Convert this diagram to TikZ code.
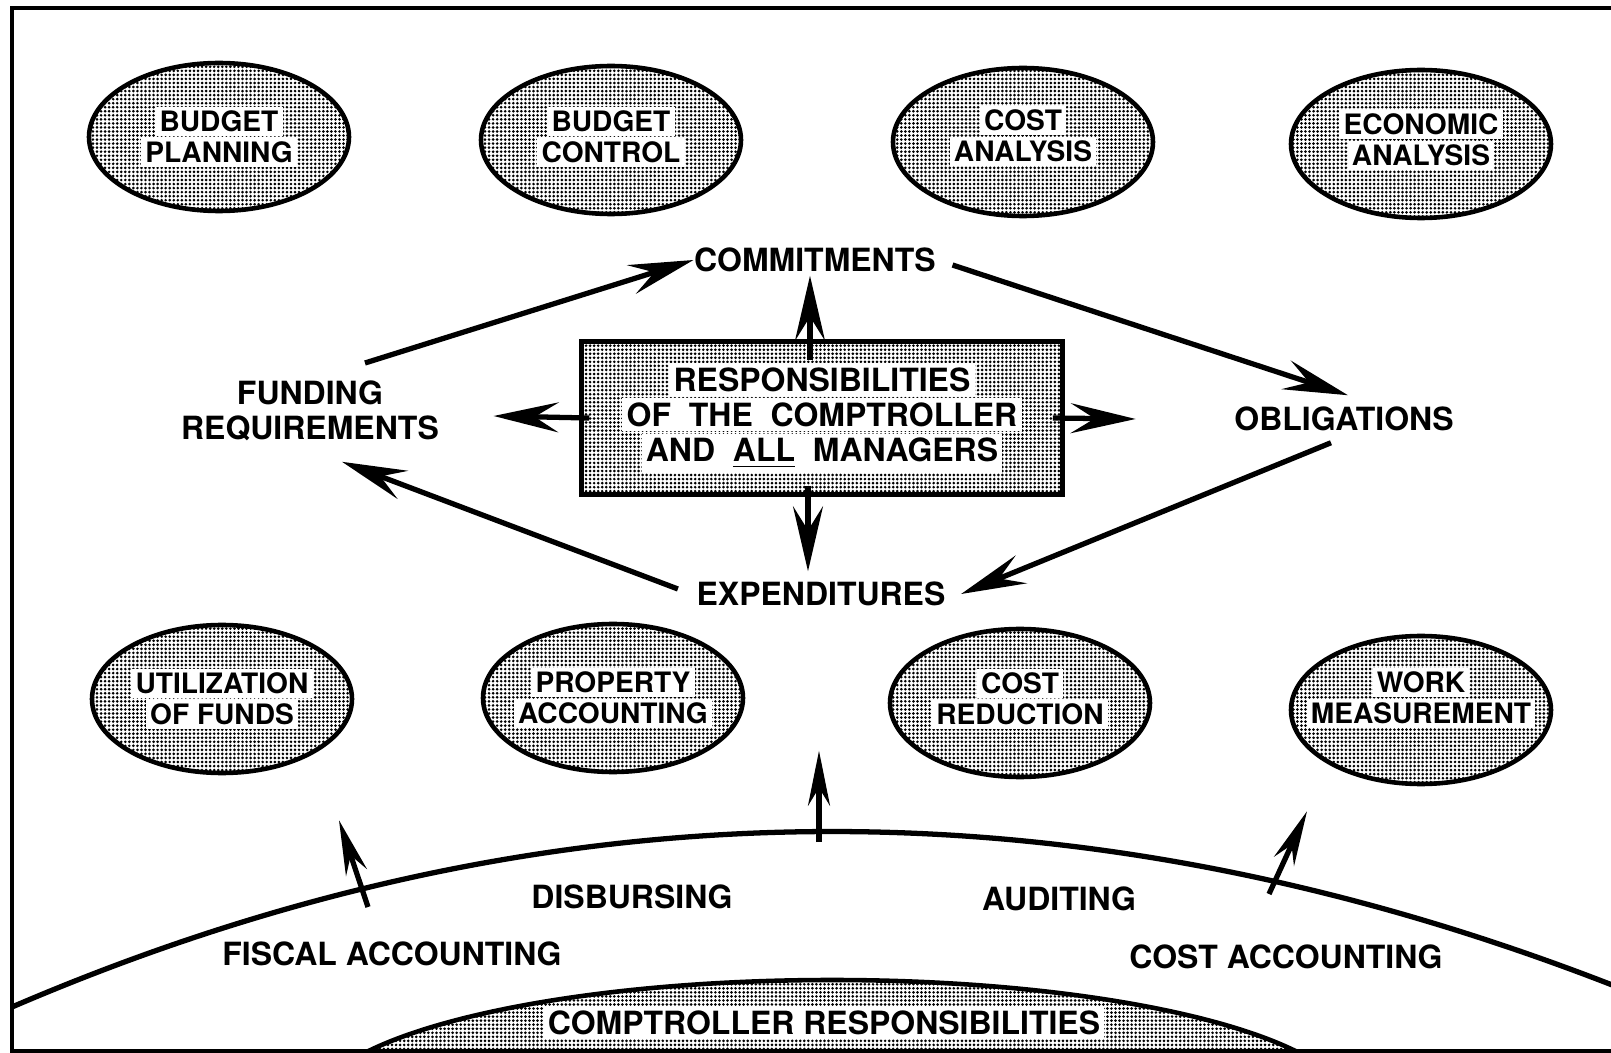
\documentclass[tikz,border=0pt]{standalone}
\usepackage{fontspec}
\setmainfont{TeX Gyre Heros}
\usetikzlibrary{arrows.meta,shapes.geometric,patterns.meta}
\setlength{\fboxsep}{1.2pt}
\newcommand{\cutout}[1]{\colorbox{white}{#1}}

\begin{document}
\begin{tikzpicture}[x=0.1mm,y=-0.1mm,
  screen/.style={pattern={Dots[distance=1.15pt,radius=0.42pt]}},
  spot/.style={ellipse, draw, line width=1.3pt, screen, minimum width=26mm, minimum height=14.8mm},
  tag/.style={font=\bfseries\fontsize{8}{8.9}\selectfont, align=center},
  flow/.style={line width=1.5pt, -{Stealth[length=6.5mm,width=3mm,inset=2.4mm]}},
  lift/.style={line width=1.5pt, -{Stealth[length=5.5mm,width=2.2mm,inset=1.8mm]}}]
\tikzstyle{every node}+=[inner sep=0pt, font=\bfseries\fontsize{9.1}{10}\selectfont, align=center]
\useasboundingbox (0,0) rectangle (1611,1053);
\draw [line width=1.2pt] (1625,8) -- (12,8) -- (12,1051) -- (1625,1051);
\begin{scope}
\clip (0,0) rectangle (1611,1051);
\draw [line width=1.5pt] (12,1007) .. controls (545,778) and (1078,774) .. (1625,990);
\draw [line width=1.3pt, screen] (832,1110) ellipse [x radius=52mm, y radius=13mm];
\end{scope}
\node [spot, label={[tag]center:{\cutout{BUDGET}\\\cutout{PLANNING}}}] (plan) at (219,137) {};
\node [spot, label={[tag, yshift=0.3mm]center:{\cutout{BUDGET}\\\cutout{CONTROL}}}] (control) at (611,140) {};
\node [spot, label={[tag, yshift=0.6mm]center:{\cutout{COST}\\\cutout{ANALYSIS}}}] (costan) at (1023,142) {};
\node [spot, label={[tag, yshift=0.4mm]center:{\cutout{ECONOMIC}\\\cutout{ANALYSIS}}}] (econ) at (1421,144) {};
\node [spot, label={[tag]center:{\cutout{UTILIZATION}\\\cutout{OF FUNDS}}}] (util) at (222,699) {};
\node [spot, label={[tag]center:{\cutout{PROPERTY}\\\cutout{ACCOUNTING}}}] (prop) at (613,698) {};
\node [spot, label={[tag, yshift=0.4mm]center:{\cutout{COST}\\\cutout{REDUCTION}}}] (costred) at (1020,703) {};
\node [spot, label={[tag, yshift=1.2mm]center:{\cutout{WORK}\\\cutout{MEASUREMENT}}}] (work) at (1421,710) {};
\node [draw, line width=1.3pt, screen, minimum width=48.1mm, minimum height=15.3mm] (hub) at (822,418)
  {\cutout{RESPONSIBILITIES}\\\cutout{OF\ \ THE\ \ COMPTROLLER}\\\cutout{AND\ \ \underline{ALL}\ \ MANAGERS}};
\node (commit) at (815,260) {COMMITMENTS};
\node (fund) at (310,411) {FUNDING\\REQUIREMENTS};
\node (oblig) at (1344,419) {OBLIGATIONS};
\node (expend) at (821,594) {EXPENDITURES};
\node (disb) at (632,897) {DISBURSING};
\node (audit) at (1059,899) {AUDITING};
\node (fiscal) at (392,954) {FISCAL ACCOUNTING};
\node (costacc) at (1286,957) {COST ACCOUNTING};
\node (base) at (824,1023) {\cutout{COMPTROLLER RESPONSIBILITIES}};
\draw [flow] ([shift={(55,-48)}]fund.center) -- (commit.west);
\draw [flow] ([shift={(16,5)}]commit.east) -- ([shift={(4,-11)}]oblig.north);
\draw [flow] ([shift={(-13,11)}]oblig.south) -- ([xshift=1.5mm]expend.east);
\draw [flow] ([shift={(-18,-5)}]expend.west) -- ([shift={(32,20)}]fund.south);
\draw [flow] ([shift={(-12,21)}]hub.north) -- ([shift={(-5,3)}]commit.south);
\draw [flow] ([xshift=1mm]hub.west) -- ([shift={(54,5)}]fund.east);
\draw [flow] ([xshift=-1.2mm]hub.east) -- ([xshift=-9.8mm]oblig.west);
\draw [flow] ([shift={(-14,-11)}]hub.south) -- ([shift={(-13,-10)}]expend.north);
\coordinate (fiscalfoot) at (368,907);
\coordinate (centrefoot) at (819,842);
\coordinate (costfoot) at (1269,894);
\draw [lift] (fiscalfoot) -- ([shift={(117,45)}]util.south);
\draw [lift] (centrefoot) -- ([shift={(-2,144)}]expend.south);
\draw [lift] (costfoot) -- ([shift={(-114,25)}]work.south);
\end{tikzpicture}
\end{document}
